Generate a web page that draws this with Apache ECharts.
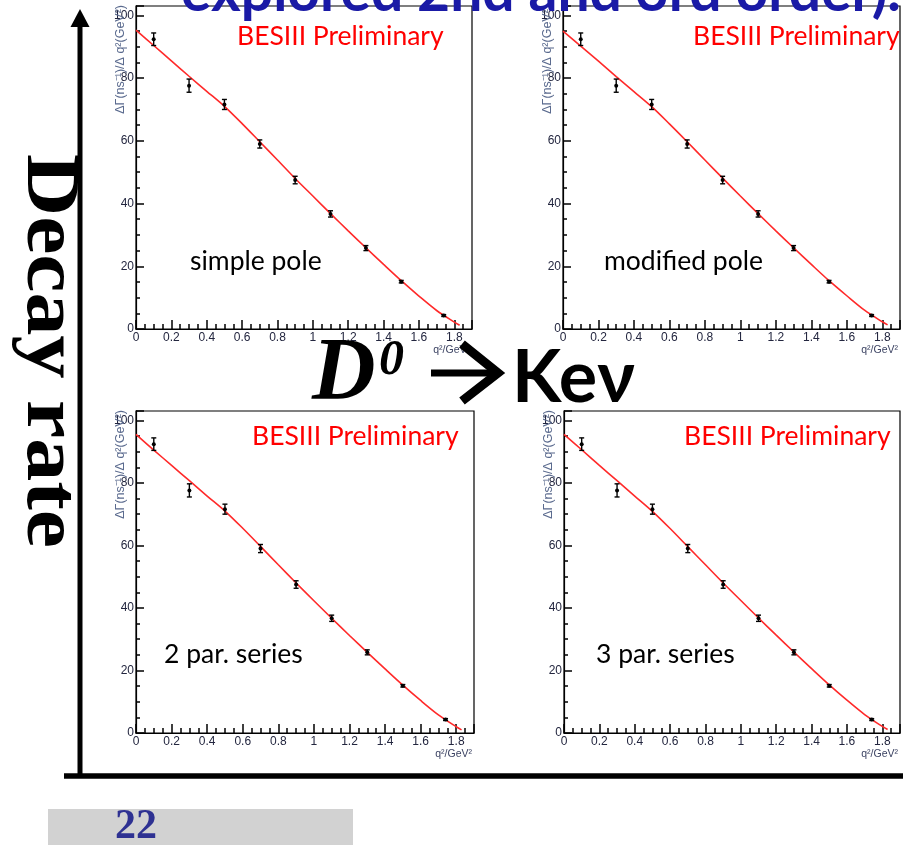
<!DOCTYPE html>
<html>
<head>
<meta charset="utf-8">
<script src="https://cdn.jsdelivr.net/npm/echarts@6/dist/echarts.min.js"></script>
<style>
  html, body { margin: 0; padding: 0; background: #fff; }
  #chart { width: 903px; height: 845px; }
</style>
</head>
<body>
<div id="chart"></div>
<script>
// Measured differential decay rate of D0 -> K e nu in q^2 bins
const qBins    = [0.1, 0.3, 0.5, 0.7, 0.9, 1.1, 1.3, 1.5, 1.74];
const rateVals = [92.4, 77.6, 71.6, 59.0, 47.5, 36.7, 25.8, 15.1, 4.3];
const rateErrs = [2.0, 2.1, 1.6, 1.3, 1.2, 1.0, 0.8, 0.4, 0.3];

// Fitted form-factor curves, sampled along q^2
const fitQ = [0, 0.1, 0.2, 0.3, 0.4, 0.5, 0.6, 0.7, 0.8, 0.9, 1.0, 1.1, 1.2, 1.3, 1.4, 1.5, 1.6, 1.7, 1.8, 1.83];
const fitSimplePole   = [95.3, 90.4, 85.5, 80.6, 75.8, 71.0, 65.5, 59.7, 53.9, 48.0, 42.4, 36.8, 31.3, 25.9, 20.6, 15.4, 10.5, 5.9, 2.2, 1.2];
const fitModifiedPole = [95.0, 90.2, 85.4, 80.5, 75.7, 70.9, 65.4, 59.7, 53.9, 48.1, 42.4, 36.8, 31.3, 25.9, 20.6, 15.4, 10.6, 6.0, 2.3, 1.3];
const fit2ParSeries   = [95.5, 90.5, 85.6, 80.7, 75.8, 71.0, 65.5, 59.7, 53.8, 48.0, 42.3, 36.7, 31.2, 25.8, 20.5, 15.3, 10.4, 5.8, 2.0, 1.0];
const fit3ParSeries   = [95.5, 90.6, 85.6, 80.7, 75.8, 70.9, 65.4, 59.6, 53.8, 48.0, 42.4, 36.8, 31.3, 25.9, 20.6, 15.4, 10.5, 5.9, 2.1, 1.1];

const panelNames = ['simple pole', 'modified pole', '2 par. series', '3 par. series'];
const panelFits = [fitSimplePole, fitModifiedPole, fit2ParSeries, fit3ParSeries];

const xTitle = 'q²/GeV²';
const yTitle = 'ΔΓ(ns⁻¹)/Δ q²(GeV²)';
const previewTag = 'BESIII Preliminary';

// plot frames: left, top, width, height
const frames = [
  { left: 136, top: 6,   width: 336, height: 323 },
  { left: 563, top: 6,   width: 337, height: 323 },
  { left: 136, top: 411, width: 338, height: 322 },
  { left: 564, top: 411, width: 336, height: 322 }
];
// annotation anchors per panel (tag left/baseline, model name left/baseline)
const tagPos  = [[237, 45], [693, 45], [252, 445], [684, 445]];
const namePos = [[190, 270], [604, 270], [164, 663], [596, 663]];

const chart = echarts.init(document.getElementById('chart'), null, { renderer: 'canvas' });

const labelFont = 'Liberation Sans, Arial, sans-serif';
const calFont = 'Lato, "Open Sans", "Noto Sans", sans-serif';
const serif = '"Liberation Serif", "DejaVu Serif", serif';

const grids = [], xAxes = [], yAxes = [], series = [], graphics = [];

const tickStyle = { color: '#000', width: 1.5 };

frames.forEach((f, i) => {
  grids.push({
    left: f.left, top: f.top, width: f.width, height: f.height,
    show: true, borderColor: '#000', borderWidth: 1.2, backgroundColor: 'transparent'
  });
  xAxes.push({
    gridIndex: i, type: 'value', min: 0, max: 1.9, interval: 0.2,
    axisLine: { show: true, onZero: false, lineStyle: { color: '#000', width: 1.2 } },
    axisTick: { show: true, inside: true, length: 9, lineStyle: tickStyle },
    minorTick: { show: true, splitNumber: 4, length: 5, lineStyle: tickStyle },
    splitLine: { show: false },
    minorSplitLine: { show: false },
    axisLabel: { show: true, margin: 3, fontSize: 12, color: '#23263f', fontFamily: labelFont, showMaxLabel: false }
  });
  yAxes.push({
    gridIndex: i, type: 'value', min: 0, max: 103, interval: 20,
    axisLine: { show: true, onZero: false, lineStyle: { color: '#000', width: 1.2 } },
    axisTick: { show: true, inside: true, length: 8, lineStyle: tickStyle },
    minorTick: { show: true, splitNumber: 4, length: 4, lineStyle: tickStyle },
    splitLine: { show: false },
    minorSplitLine: { show: false },
    axisLabel: { show: true, margin: 2, fontSize: 12, color: '#23263f', fontFamily: labelFont, showMaxLabel: false }
  });

  // fit curve
  series.push({
    type: 'line', xAxisIndex: i, yAxisIndex: i,
    data: fitQ.map((q, k) => [q, panelFits[i][k]]),
    showSymbol: false, smooth: 0.3,
    lineStyle: { color: '#ff2a2a', width: 1.6 },
    z: 3, silent: true, animation: false
  });

  // data points with error bars
  series.push({
    type: 'custom', xAxisIndex: i, yAxisIndex: i,
    data: qBins.map((q, k) => [q, rateVals[k], rateErrs[k]]),
    renderItem: function (params, api) {
      const x = api.value(0), y = api.value(1), e = api.value(2);
      const c = api.coord([x, y]);
      const lo = api.coord([x, y - e]);
      const hi = api.coord([x, y + e]);
      const cap = 2.5;
      return {
        type: 'group',
        children: [
          { type: 'line', shape: { x1: c[0], y1: lo[1], x2: c[0], y2: hi[1] }, style: { stroke: '#000', lineWidth: 1.4 } },
          { type: 'line', shape: { x1: c[0] - cap, y1: lo[1], x2: c[0] + cap, y2: lo[1] }, style: { stroke: '#000', lineWidth: 1.4 } },
          { type: 'line', shape: { x1: c[0] - cap, y1: hi[1], x2: c[0] + cap, y2: hi[1] }, style: { stroke: '#000', lineWidth: 1.4 } },
          { type: 'circle', shape: { cx: c[0], cy: c[1], r: 2 }, style: { fill: '#000' } }
        ]
      };
    },
    z: 4, silent: true, animation: false
  });

  // axis titles
  graphics.push({
    type: 'text', x: f.left - 15, y: f.top - 1, rotation: Math.PI / 2,
    style: { text: yTitle, fontSize: 12.5, fontFamily: labelFont, fill: '#5a6a8e', align: 'right', verticalAlign: 'middle' },
    z: 10
  });
  graphics.push({
    type: 'text', x: f.left + f.width - 2, y: f.top + f.height + 21,
    style: { text: xTitle, fontSize: 10.5, fontFamily: labelFont, fill: '#3b4262', align: 'right', verticalAlign: 'middle' },
    z: 10
  });

  // panel annotations
  graphics.push({
    type: 'text', x: tagPos[i][0], y: tagPos[i][1] - 0.3225 * 26.5,
    style: { text: previewTag, fontSize: 26.5, fontFamily: calFont, fill: '#ff0000', align: 'left', verticalAlign: 'middle' },
    z: 10
  });
  graphics.push({
    type: 'text', x: namePos[i][0], y: namePos[i][1] - 0.3225 * 26.5,
    style: { text: panelNames[i], fontSize: 26.5, fontFamily: calFont, fill: '#000', align: 'left', verticalAlign: 'middle' },
    z: 10
  });
});

// slide heading (runs past the top edge)
graphics.push({
  type: 'text', x: 181, y: 11 - 0.3225 * 57,
  style: { text: 'explored 2nd and 3rd order).', fontSize: 57, fontWeight: 'bold', fontFamily: calFont, fill: '#1a1aa6', align: 'left', verticalAlign: 'middle' },
  z: 20
});

// vertical "Decay rate" arrow axis
graphics.push({
  type: 'text', x: 48, y: 351, rotation: -Math.PI / 2, scaleY: 0.895,
  style: { text: 'Decay rate', fontSize: 86, fontWeight: 'bold', fontFamily: serif, fill: '#000', align: 'center', verticalAlign: 'middle' },
  z: 20
});
graphics.push({
  type: 'line', shape: { x1: 80, y1: 24, x2: 80, y2: 778 },
  style: { stroke: '#000', lineWidth: 5 }, z: 20
});
graphics.push({
  type: 'polygon', shape: { points: [[80, 9], [70.5, 27], [89.5, 27]] },
  style: { fill: '#000' }, z: 20
});
graphics.push({
  type: 'line', shape: { x1: 64, y1: 776, x2: 903, y2: 776 },
  style: { stroke: '#000', lineWidth: 5.5 }, z: 20
});

// decay channel label
graphics.push({
  type: 'text', x: 312, y: 402 - 0.305 * 88,
  style: { text: 'D', fontSize: 88, fontWeight: 'bold', fontStyle: 'italic', fontFamily: serif, fill: '#000', align: 'left', verticalAlign: 'middle' },
  z: 20
});
graphics.push({
  type: 'text', x: 379, y: 376 - 0.305 * 50,
  style: { text: '0', fontSize: 50, fontWeight: 'bold', fontStyle: 'italic', fontFamily: serif, fill: '#000', align: 'left', verticalAlign: 'middle' },
  z: 20
});
graphics.push({
  type: 'line', shape: { x1: 431, y1: 373, x2: 496, y2: 373 },
  style: { stroke: '#000', lineWidth: 7 }, z: 20
});
graphics.push({
  type: 'polyline', shape: { points: [[462, 344], [498, 373], [462, 401]] },
  style: { stroke: '#000', lineWidth: 9, lineJoin: 'miter', fill: null }, z: 20
});
graphics.push({
  type: 'text', x: 512, y: 402 - 0.3225 * 72,
  style: { text: 'Keν', fontSize: 72, fontWeight: 'bold', fontFamily: calFont, fill: '#000', align: 'left', verticalAlign: 'middle' },
  z: 20
});

// slide number box
graphics.push({
  type: 'rect', shape: { x: 48, y: 809, width: 305, height: 36 },
  style: { fill: '#d2d2d2' }, z: 1
});
graphics.push({
  type: 'text', x: 115, y: 840 - 0.305 * 42,
  style: { text: '22', fontSize: 42, fontWeight: 'bold', fontFamily: serif, fill: '#2e3192', align: 'left', verticalAlign: 'middle' },
  z: 2
});

chart.setOption({
  backgroundColor: '#ffffff',
  animation: false,
  grid: grids,
  xAxis: xAxes,
  yAxis: yAxes,
  series: series,
  graphic: { elements: graphics }
});
</script>
</body>
</html>
